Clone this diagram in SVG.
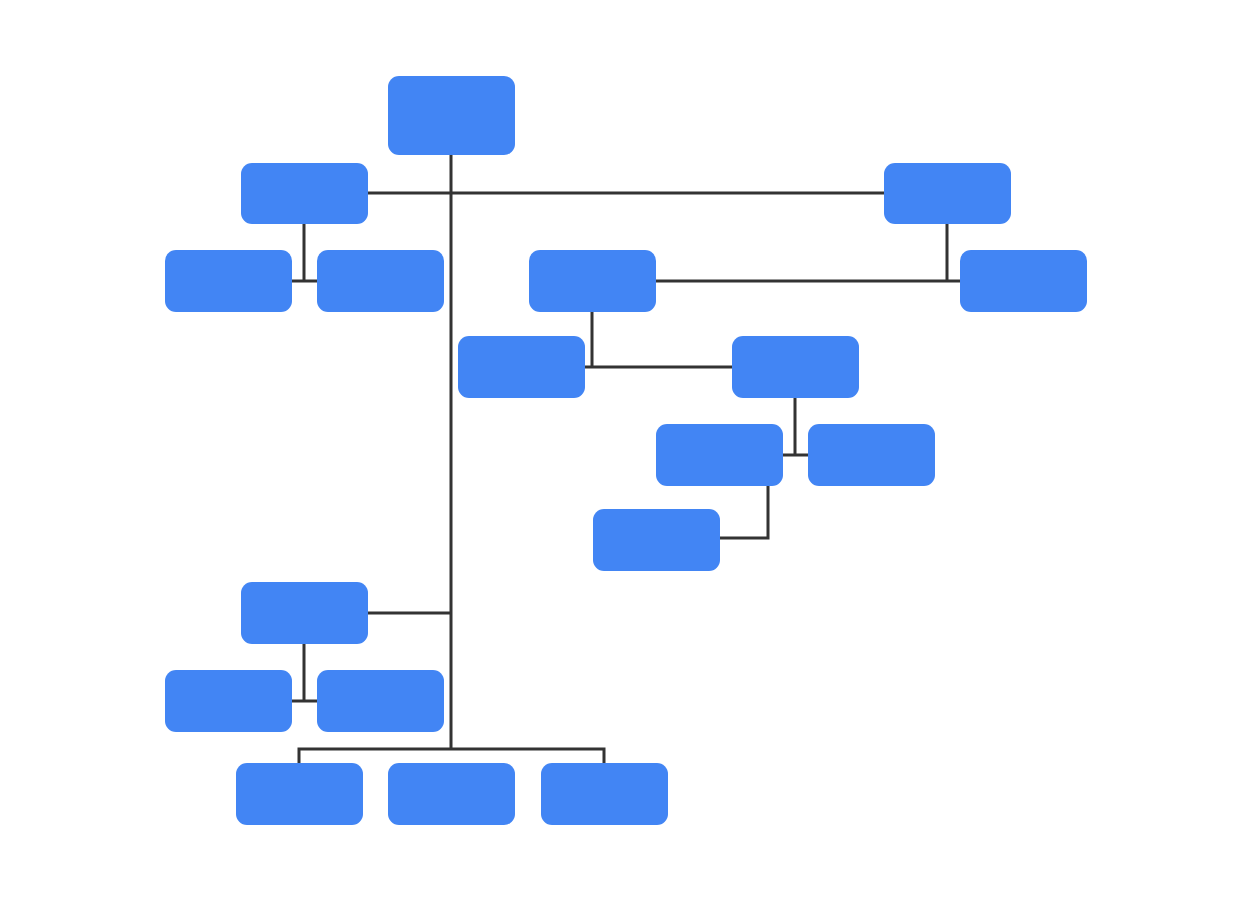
<svg xmlns="http://www.w3.org/2000/svg" width="1251" height="901" viewBox="0 0 1251 901">
<style>.n{fill:#4285f4}.c{stroke:#333;stroke-width:3;fill:none}</style>
<rect width="1251" height="901" fill="#fff"/>
<g id="connectors" class="c">
<path d="M451 155V749M368 193H884M304 224V281M292 281H317M947 224V281M656 281H960M592 312V367M585 367H732M795 398V455M783 455H808M768 486V538H720M368 613H451M304 644V701M292 701H317M299 763V749H604V763"/>
</g>
<g id="root"><rect class="n" x="388" y="76" width="127" height="79" rx="11"/></g>
<g id="a"><rect class="n" x="241" y="163" width="127" height="61" rx="11"/></g>
<g id="b"><rect class="n" x="884" y="163" width="127" height="61" rx="11"/></g>
<g id="a1"><rect class="n" x="165" y="250" width="127" height="62" rx="11"/></g>
<g id="a2"><rect class="n" x="317" y="250" width="127" height="62" rx="11"/></g>
<g id="c"><rect class="n" x="529" y="250" width="127" height="62" rx="11"/></g>
<g id="d"><rect class="n" x="960" y="250" width="127" height="62" rx="11"/></g>
<g id="e"><rect class="n" x="458" y="336" width="127" height="62" rx="11"/></g>
<g id="f"><rect class="n" x="732" y="336" width="127" height="62" rx="11"/></g>
<g id="g"><rect class="n" x="656" y="424" width="127" height="62" rx="11"/></g>
<g id="h"><rect class="n" x="808" y="424" width="127" height="62" rx="11"/></g>
<g id="i"><rect class="n" x="593" y="509" width="127" height="62" rx="11"/></g>
<g id="j"><rect class="n" x="241" y="582" width="127" height="62" rx="11"/></g>
<g id="j1"><rect class="n" x="165" y="670" width="127" height="62" rx="11"/></g>
<g id="j2"><rect class="n" x="317" y="670" width="127" height="62" rx="11"/></g>
<g id="k1"><rect class="n" x="236" y="763" width="127" height="62" rx="11"/></g>
<g id="k2"><rect class="n" x="388" y="763" width="127" height="62" rx="11"/></g>
<g id="k3"><rect class="n" x="541" y="763" width="127" height="62" rx="11"/></g>
</svg>
